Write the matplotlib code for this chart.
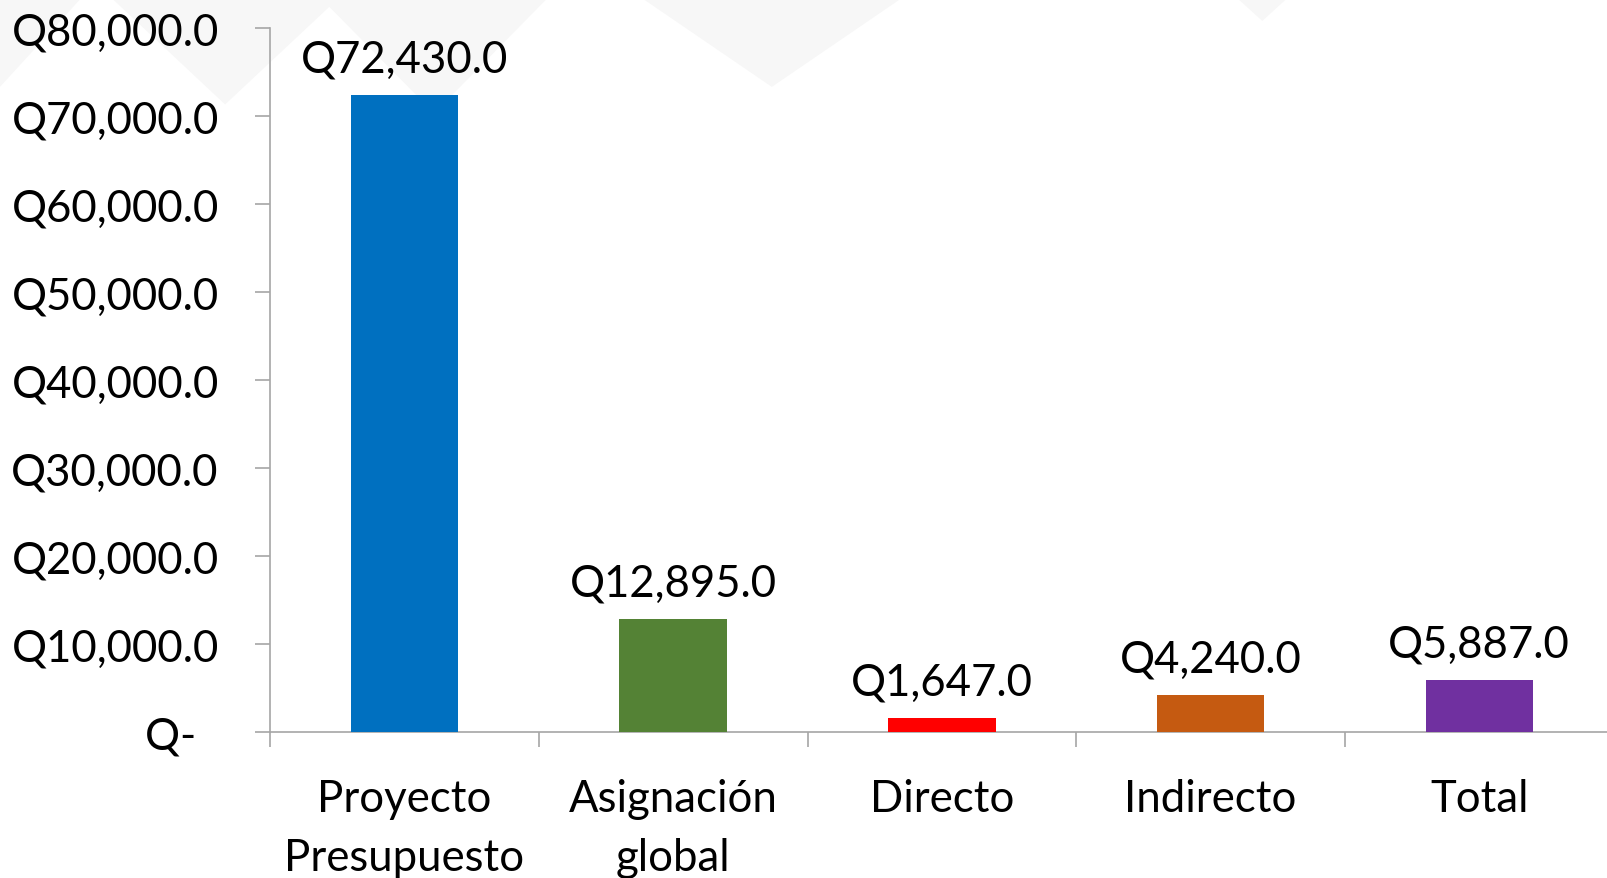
import matplotlib
matplotlib.use("Agg")
import matplotlib.pyplot as plt
import numpy as np
from matplotlib.patches import Polygon

plt.rcParams['font.family'] = ['Lato', 'DejaVu Sans']

categories = ["Proyecto\nPresupuesto", "Asignación\nglobal", "Directo", "Indirecto", "Total"]
values = [72430.0, 12895.0, 1647.0, 4240.0, 5887.0]
colors = ["#0070C0", "#548235", "#FF0000", "#C55A11", "#7030A0"]
yticks = [0, 10000, 20000, 30000, 40000, 50000, 60000, 70000, 80000]

fig = plt.figure(figsize=(16.08, 8.79), dpi=100)

# faint watermark shapes in the background
for pts in [[(0.0, 0.90), (0.05, 1.0), (0.0, 1.0)],
            [(0.07, 1.0), (0.14, 0.88), (0.21, 1.0)],
            [(0.20, 1.0), (0.27, 0.87), (0.34, 1.0)],
            [(0.40, 1.0), (0.48, 0.90), (0.56, 1.0)],
            [(0.77, 1.0), (0.785, 0.975), (0.80, 1.0)]]:
    fig.patches.append(Polygon(pts, closed=True, transform=fig.transFigure,
                               facecolor="#f7f7f7", edgecolor="none", zorder=-5))

ax = fig.add_axes([0.168, 0.166, 0.8355, 0.801])
ax.patch.set_alpha(0)

x = np.arange(len(categories))
ax.bar(x, values, width=0.4, color=colors, zorder=3)

for xi, v in zip(x, values):
    ax.annotate("Q{:,.1f}".format(v), (xi, v), xytext=(0, 11), textcoords="offset points",
                ha="center", va="bottom", fontsize=31.5)

ax.set_xlim(-0.5, len(categories) - 0.5)
ax.set_ylim(0, 80000)
ax.set_yticks(yticks)
ax.set_yticklabels(["Q{:,.1f}".format(t) if t else "Q-  " for t in yticks], fontsize=31.5)

ax.set_xticks(x)
ax.set_xticklabels(categories, fontsize=31.5, linespacing=1.55)
ax.set_xticks(np.arange(len(categories) + 1) - 0.5, minor=True)
ax.tick_params(axis="x", which="major", length=0, pad=33)
ax.tick_params(axis="x", which="minor", length=11, color="#a6a6a6", width=1.2)
ax.tick_params(axis="y", length=11, color="#a6a6a6", width=1.2, pad=26)

for s in ["top", "right"]:
    ax.spines[s].set_visible(False)
for s in ["left", "bottom"]:
    ax.spines[s].set_color("#a6a6a6")
    ax.spines[s].set_linewidth(1.2)

fig.savefig("out.png", dpi=100)
